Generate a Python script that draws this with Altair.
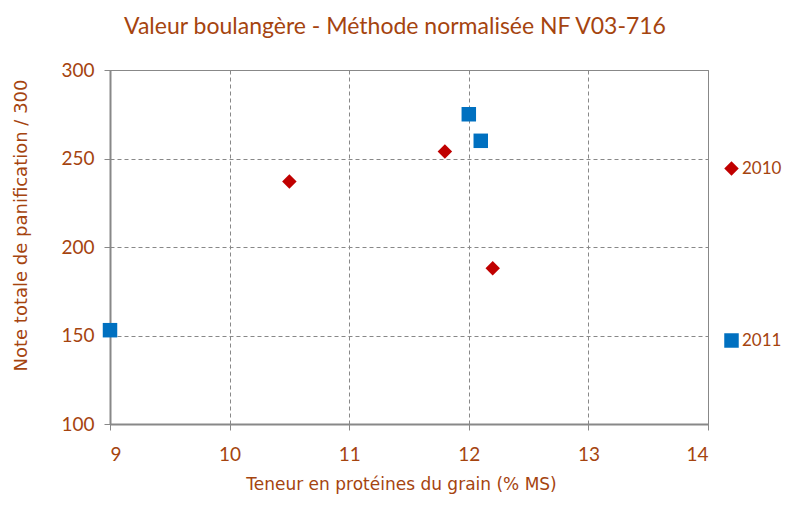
import altair as alt
import pandas as pd

years = ["2010", "2010", "2010", "2011", "2011", "2011"]
protein = [10.5, 11.8, 12.2, 9.0, 12.0, 12.1]
score = [237, 254, 188, 153, 275, 260]

df = pd.DataFrame({"Année": years, "Protéines": protein, "Note": score})

BROWN = "#A5440F"
FONT = "Lato"

chart = alt.Chart(df).mark_point(filled=True, opacity=1, size=210).encode(
    x=alt.X("Protéines:Q",
            scale=alt.Scale(domain=[9, 14], nice=False, zero=False),
            axis=alt.Axis(values=[9, 10, 11, 12, 13, 14], title="Teneur en protéines du grain (% MS)",
                          titlePadding=12, labelPadding=15, titleFontSize=17, titleX=291)),
    y=alt.Y("Note:Q",
            scale=alt.Scale(domain=[100, 300], nice=False, zero=False),
            axis=alt.Axis(values=[100, 150, 200, 250, 300], title="Note totale de panification / 300",
                          titleX=-80, titleY=155, labelPadding=10, titleFontSize=18)),
    color=alt.Color("Année:N",
                    scale=alt.Scale(domain=["2010", "2011"], range=["#C00000", "#0070C0"]),
                    legend=alt.Legend(title=None, orient="none", legendX=613, legendY=90,
                                      rowPadding=154, symbolSize=210, labelFontSize=17,
                                      labelFont=FONT, labelColor=BROWN, padding=0,
                                      labelOffset=2, symbolStrokeWidth=0)),
    shape=alt.Shape("Année:N",
                    scale=alt.Scale(domain=["2010", "2011"], range=["diamond", "square"]),
                    legend=None),
).properties(
    width=598,
    height=354,
    autosize=alt.AutoSizeParams(type="none"),
    padding={"left": 102, "top": 62, "right": 74, "bottom": 74},
    title=alt.TitleParams("Valeur boulangère - Méthode  normalisée NF V03-716", fontSize=23,
                          font=FONT, fontWeight="normal", color=BROWN, anchor="middle",
                          dx=-14, offset=22),
).configure_axis(
    labelFont=FONT, labelFontSize=19, labelColor=BROWN,
    titleFont="DejaVu Sans", titleFontWeight="normal", titleColor=BROWN,
    domainColor="#888888", domainWidth=2, tickColor="#888888", tickSize=6, tickWidth=1,
    gridColor="#888888", gridDash=[4, 3], gridWidth=1,
).configure_view(
    stroke="#888888", strokeWidth=1,
)

chart.save("out.html", embed_options={"renderer": "svg", "actions": False})
